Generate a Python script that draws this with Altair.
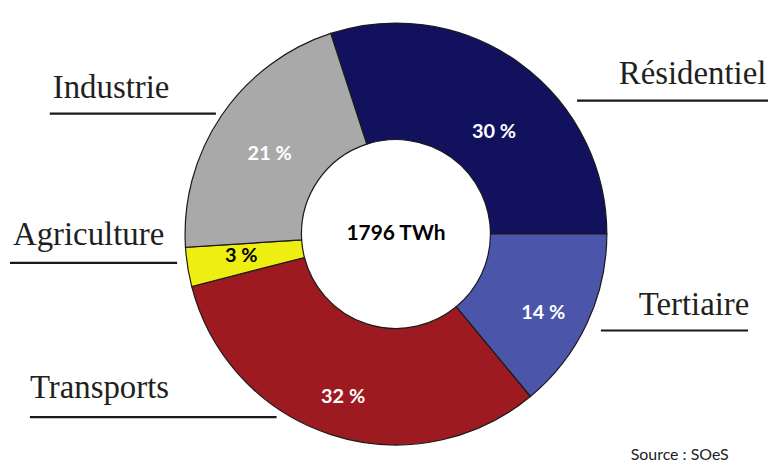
import math
import altair as alt
import pandas as pd

# ---- data ----
sectors = ["Résidentiel", "Tertiaire", "Transports", "Agriculture", "Industrie"]
shares = [30, 14, 32, 3, 21]
colors = ["#11115e", "#4b55a9", "#9d1a21", "#eeee12", "#a9a9a9"]
pct_colors = ["white", "white", "white", "black", "white"]
total_label = "1796 TWh"
source_label = "Source : SOeS"

# ---- layout (pixels in plot coordinates) ----
W, H = 764, 456
CX, CY = 390, 226
R_OUT, R_IN = 212, 95
START = math.radians(-18)
pct_radius = [142, 168, 172, 157, 150]
pct_shift_deg = [8, 3, 0, 1, -2]

label_x = [614, 634, 22, 5, 45]
label_y = [75, 307, 391, 237, 89]
line_x1 = [572, 596, 22, 2, 42]
line_x2 = [764, 744, 270, 170, 209]
line_y = [92, 323, 410, 255, 105]

df = pd.DataFrame({
    "sector": sectors,
    "share": shares,
    "idx": list(range(len(sectors))),
    "pct": [f"{v} %" for v in shares],
    "pcol": pct_colors,
    "prad": pct_radius,
    "pshift": pct_shift_deg,
})

lab = pd.DataFrame({
    "sector": sectors,
    "lx": label_x, "ly": label_y,
    "x1": line_x1, "x2": line_x2, "ly2": line_y,
})

theta = alt.Theta("share:Q", stack=True,
                  scale=alt.Scale(range=[START, START + 2 * math.pi]))
color = alt.Color("sector:N", scale=alt.Scale(domain=sectors, range=colors), legend=None)

arcs = alt.Chart(df).mark_arc(outerRadius=R_OUT, innerRadius=R_IN, stroke="#1a1a1a",
                              strokeWidth=1.2).encode(
    theta=theta, order=alt.Order("idx:Q"),
    color=color, x=alt.value(CX), y=alt.value(CY))

pcts = alt.Chart(df).transform_window(
    cum="sum(share)", sort=[alt.SortField("idx")]
).transform_joinaggregate(
    tot="sum(share)"
).transform_calculate(
    frac="(datum.cum - datum.share / 2) / datum.tot + datum.pshift / 360"
).mark_text(font="Lato", fontSize=20, fontWeight="bold").encode(
    theta=alt.Theta("frac:Q", stack=False,
                    scale=alt.Scale(domain=[0, 1], range=[START, START + 2 * math.pi])),
    text="pct:N",
    radius=alt.Radius("prad:Q", scale=None),
    color=alt.Color("pcol:N", scale=None),
    x=alt.value(CX), y=alt.value(CY))

center = alt.Chart(pd.DataFrame({"t": [total_label]})).mark_text(
    font="Lato", fontSize=21, fontWeight="bold", color="black"
).encode(text="t:N", x=alt.value(CX), y=alt.value(CY))

names = alt.Chart(lab).mark_text(
    font="Liberation Serif", fontSize=33, align="left", baseline="alphabetic",
    color="#231f20"
).encode(
    x=alt.X("lx:Q", scale=None), y=alt.Y("ly:Q", scale=None), text="sector:N")

lines = alt.Chart(lab).mark_rule(color="#1a1a1a", strokeWidth=2.2).encode(
    x=alt.X("x1:Q", scale=None), x2="x2:Q", y=alt.Y("ly2:Q", scale=None))

source = alt.Chart(pd.DataFrame({"t": [source_label]})).mark_text(
    font="Lato", fontSize=16, align="left", baseline="alphabetic", color="#222"
).encode(text="t:N", x=alt.value(626), y=alt.value(453))

chart = alt.layer(arcs, pcts, center, lines, names, source).resolve_scale(
    theta="independent"
).properties(
    width=W, height=H, autosize=alt.AutoSizeParams(type="none"), padding=0
).configure_view(stroke=None)

chart.save("out.html", embed_options={"renderer": "svg", "actions": False})
